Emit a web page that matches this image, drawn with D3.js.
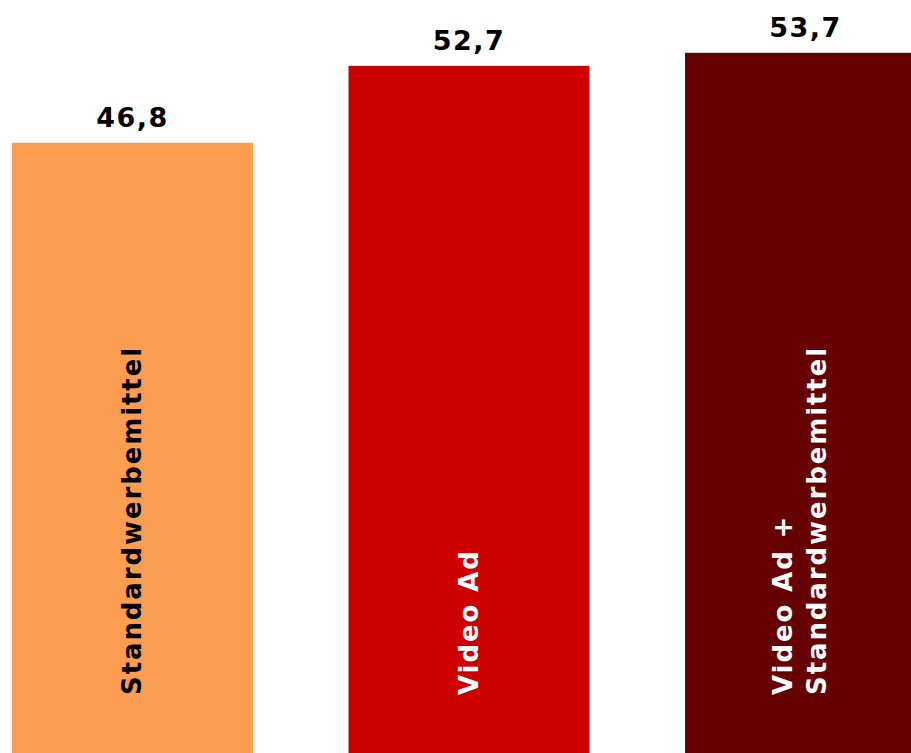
<!DOCTYPE html>
<html><head><meta charset="utf-8">
<script src="https://cdn.jsdelivr.net/npm/d3@7/dist/d3.min.js"></script>
<style>html,body{margin:0;padding:0;background:#fff;overflow:hidden}</style>
</head><body>
<svg id="c" width="911" height="753"></svg>
<script>
const categories = ["Standardwerbemittel", "Video Ad", "Video Ad + Standardwerbemittel"];
const labelLines = [["Standardwerbemittel"], ["Video Ad"], ["Video Ad +", "Standardwerbemittel"]];
const values = [46.8, 52.7, 53.7];
const valueLabels = ["46,8", "52,7", "53,7"];
const colors = ["#FB9D50", "#CC0000", "#660000"];
const labelColors = ["#000000", "#FFFFFF", "#FFFFFF"];

const W = 911, H = 753;
const svg = d3.select("#c");
const x = d3.scaleBand().domain(categories).range([12, 926]).paddingInner(0.284).paddingOuter(0);
const y = d3.scaleLinear().domain([0, 57.75]).range([H, 0]);

const g = svg.selectAll("g.bar").data(categories).join("g").attr("class", "bar");
g.append("rect")
  .attr("x", d => x(d)).attr("width", x.bandwidth())
  .attr("y", (d, i) => y(values[i])).attr("height", (d, i) => y(0) - y(values[i]))
  .attr("fill", (d, i) => colors[i]);

g.append("text")
  .attr("x", d => x(d) + x.bandwidth() / 2)
  .attr("y", (d, i) => y(values[i]) - 16)
  .attr("text-anchor", "middle")
  .attr("font-family", "DejaVu Sans, sans-serif").attr("font-weight", "bold")
  .attr("font-size", 27).attr("letter-spacing", 1.5).attr("fill", "#000")
  .text((d, i) => valueLabels[i]);

const labelShift = [0, 0, -5.5];
g.each(function(d, i) {
  const lines = labelLines[i];
  const cx = x(d) + x.bandwidth() / 2 + labelShift[i];
  const lh = 34;
  const t = d3.select(this).append("text")
    .attr("transform", `translate(${cx},695) rotate(-90)`)
    .attr("font-family", "DejaVu Sans, sans-serif").attr("font-weight", "bold")
    .attr("font-size", 26).attr("letter-spacing", 1.9).attr("fill", labelColors[i])
    .attr("text-anchor", "start");
  lines.forEach((l, j) => {
    t.append("tspan").attr("x", 0)
      .attr("y", (j - (lines.length - 1) / 2) * lh + 9)
      .text(l);
  });
});
</script>
</body></html>
